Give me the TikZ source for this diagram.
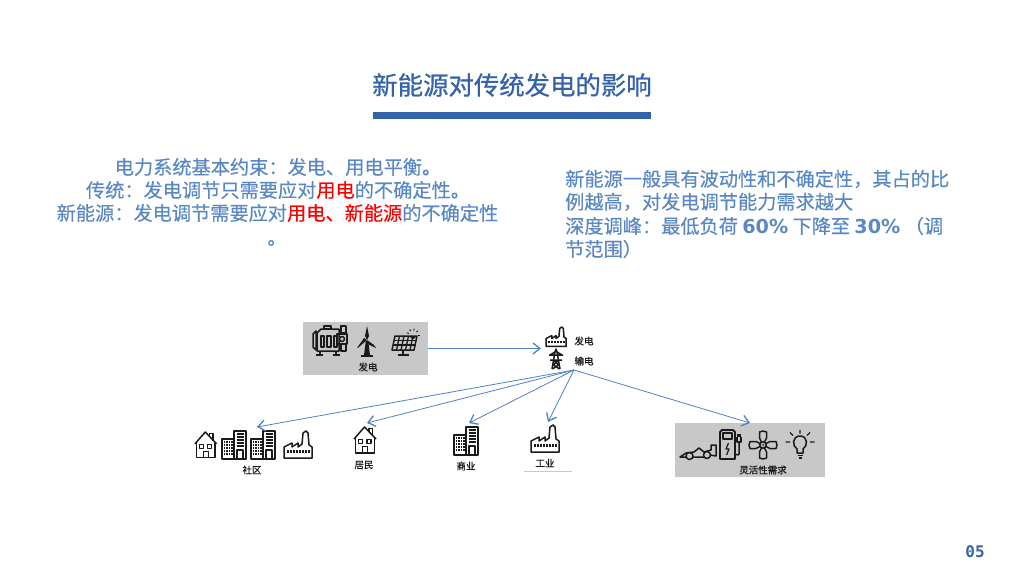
\documentclass[tikz,border=0pt]{standalone}
\usepackage{fontspec}
\usetikzlibrary{arrows.meta}
\setmainfont{Noto Sans CJK SC}
\newfontfamily\bodyfont[FakeBold=0.35]{Noto Sans CJK SC}
\newfontfamily\titlefont[FakeBold=0.7]{Noto Sans CJK SC}
\newfontfamily\labfont[FakeBold=0.8]{Noto Sans CJK SC}
\newfontfamily\latinbold{DejaVu Sans Bold}
\newfontfamily\monobold{DejaVu Sans Mono Bold}
\definecolor{titleblue}{HTML}{3563A8}
\definecolor{textblue}{HTML}{5A88C4}
\definecolor{linkblue}{HTML}{4F81C7}
\definecolor{panelgrey}{HTML}{C8C8C8}
\definecolor{iconblack}{HTML}{1A1A1A}
\newcommand{\redt}[1]{\textcolor{red}{#1}}
\newcommand{\nb}[1]{{\latinbold #1}}
\newcommand{\fwcolon}{^^^^ff1a}
\newcommand{\fwcomma}{^^^^ff0c}
\newcommand{\fwopen}{^^^^ff08}
\newcommand{\fwclose}{^^^^ff09}
\tikzset{
  x=1pt,y=-1pt,
  titletext/.style={font=\titlefont\fontsize{25.4}{28}\selectfont,text=titleblue,inner sep=0pt},
  bodyc/.style={font=\bodyfont\fontsize{19.2}{22}\selectfont,text=textblue,inner sep=0pt},
  bodyl/.style={bodyc,anchor=west},
  lab/.style={font=\labfont\fontsize{9.5}{11}\selectfont,text=iconblack,inner sep=0pt},
  panel/.style={fill=panelgrey,draw=none},
  link/.style={draw=linkblue,line width=0.8pt,-{Straight Barb[length=7pt,width=11pt,line width=1.3pt]}},
  ic/.style={draw=iconblack,line width=1.5pt,line join=round,fill=none},
  pageno/.style={font=\monobold\fontsize{16}{18}\selectfont,text=titleblue,inner sep=0pt},
  pics/house/.style={code={
    \draw[ic] (1,12)--(11.5,0)--(23,12);
    \draw[ic] (2.5,10.5)--(2.5,26)--(21.5,26)--(21.5,10.5);
    \draw[ic] (16,5)--(16,1.5)--(19.5,1.5)--(19.5,9);
    \draw[ic,line width=1.2pt] (5.5,12.5) rectangle (9.5,16.5) (14,12.5) rectangle (18,16.5) (9.5,26)--(9.5,19.5)--(14.5,19.5)--(14.5,26);
  }},
  pics/building/.style={code={
    \draw[ic] (0,8) rectangle (13,28);
    \draw[ic,fill=white,line width=1.8pt] (12,0) rectangle (24,28);
    \foreach \yy in {3,6,9,12,15}{\draw[iconblack,line width=1.2pt] (14.5,\yy)--(21.5,\yy);}
    \draw[ic,line width=1.2pt] (15,28)--(15,19)--(21,19)--(21,28);
    \foreach \yy in {11,14,17,20,23}{\draw[iconblack,line width=1.2pt,dash pattern=on 1.4pt off 1pt] (2,\yy)--(11,\yy);}
  }},
  pics/factory/.style={code={
    \draw[ic] (0,27)--(0,16)--(8,12)--(8,16)--(14,12)--(14,16)--(18,13)--(19,2)--(22,0)--(24,2)--(25,14)--(28,16)--(28,27)--cycle;
    \draw[iconblack,line width=2.2pt,dash pattern=on 1.5pt off 1.5pt] (3,20.5)--(26,20.5);
  }},
  pics/engine/.style={code={
    \draw[ic] (0,8)--(3,5)--(3,24)--(0,21)--cycle;
    \draw[ic] (4,7)--(8,3)--(26,3)--(26,25)--(4,25)--cycle;
    \draw[ic] (11,3) rectangle (18,0) (24,8) rectangle (34,18) (28,0) rectangle (33,7);
    \draw[ic,line width=1.2pt] (8,10) rectangle (11,21) (14,10) rectangle (18,21) (21,10) rectangle (24,21);
    \draw[ic] (7,25)--(7,29) (23,25)--(23,29) (3,29)--(10,29) (20,29)--(27,29);
    \draw[ic,fill=panelgrey] (29,13) circle (2.5);
    \draw[ic] (28,18)--(28,25)--(33,25)--(33,18);
  }},
  pics/turbine/.style={code={
    \fill[iconblack] (0,0)--(-2,-4)--(0,-14)--(2,-4)--cycle;
    \fill[iconblack] (0,0)--(-8,7)--(-10,8)--(-3,-2)--cycle;
    \fill[iconblack] (0,0)--(7,5)--(9,8)--(1.5,4.5)--cycle;
    \fill[iconblack] (-1.2,1)--(1.2,1)--(3,15)--(-3,15)--cycle;
    \fill[iconblack] (-6,15) rectangle (6,17);
  }},
  pics/solar/.style={code={
    \draw[ic,fill=panelgrey] (3,6)--(25,6)--(22,20)--(0,20)--cycle;
    \foreach \xx in {7.5,12,16.5,21}{\draw[iconblack,line width=1.3pt] (\xx,6)--(\xx-3,20);}
    \foreach \yy in {10.5,15}{\draw[iconblack,line width=1.3pt] (2,\yy)--(24,\yy);}
    \draw[ic] (11,20)--(11,25) (6,25)--(17,25);
    \fill[iconblack] (18,6) arc (180:0:3) -- cycle;
    \foreach \aa in {20,60,100,140,180}{\draw[iconblack,line width=.9pt] (21,5)+(\aa:-4.5)--+(\aa:-6.5);}
  }},
  pics/pylon/.style={code={
    \draw[ic] (3,20)--(6,3)--(7,0)--(8,3)--(11,20);
    \draw[ic] (0,6)--(14,6) (1,11)--(13,11) (6,3)--(1,6) (8,3)--(13,6) (4.5,11)--(9.5,16)--(3.5,20) (9.5,11)--(4.5,16)--(10.5,20);
  }},
  pics/car/.style={code={
    \draw[ic] (0,14)--(6,10)--(14,9)--(19,5)--(24,9)--(31,7)--(31,2)--(36,2)--(36,13)--(30,12)--(28,14)--(14,14)--(12,15)--(8,15)--(6,14)--cycle;
    \draw[ic,fill=panelgrey] (9.5,13) circle (3.5) (27,12) circle (3.5);
  }},
  pics/pump/.style={code={
    \draw[ic,line width=1.8pt] (0,29)--(0,2)--(2,0)--(13,0)--(15,2)--(15,29)--cycle;
    \draw[ic] (3,3) rectangle (12,9);
    \draw[ic,line width=1.2pt] (8.5,13)--(6,19)--(9,19)--(6.5,25);
    \draw[ic] (15,24)--(18,25)--(19,24)--(19,13);
    \draw[ic] (17,7)--(17,12)--(21,12)--(21,7) (18,7)--(18,4) (20,7)--(20,4);
  }},
  pics/fan/.style={code={
    \draw[ic] (0,0) circle (3.2);
    \fill[iconblack] (0,0) circle (1);
    \foreach \aa in {0,90,180,270}{
      \begin{scope}[rotate=\aa]
        \draw[ic] (3,-1.5)--(7,-3.5)--(13,-3.5)--(14,0)--(13,3.5)--(7,3.5)--(3,1.5);
      \end{scope}}
  }},
  pics/bulb/.style={code={
    \draw[ic] (-3,13)--(-3,9) .. controls (-8,6) and (-8,-4) .. (0,-4) .. controls (8,-4) and (8,6) .. (3,9)--(3,13)--cycle;
    \draw[ic] (-2.5,15.5)--(2.5,15.5) (-1.5,18)--(1.5,18);
    \draw[iconblack,line width=1.1pt] (0,-6.5)--(0,-10) (-7,-4.5)--(-10,-7.5) (7,-4.5)--(10,-7.5) (-10,2)--(-14.5,2) (10,2)--(14.5,2);
  }}
}
\begin{document}
\begin{tikzpicture}
\useasboundingbox (0,0) rectangle (1024,576);
% heading
\node[titletext] (title) at (512,85) {新能源对传统发电的影响};
\fill[titleblue] (373,112) rectangle (651,118.5);
% left text
\node[bodyc] (l1) at (278,167) {电力系统基本约束\fwcolon 发电、用电平衡。};
\node[bodyc] (l2) at (278,190) {传统\fwcolon 发电调节只需要应对\redt{用电}的不确定性。};
\node[bodyc] (l3) at (277.5,213) {新能源\fwcolon 发电调节需要应对\redt{用电、新能源}的不确定性};
\node[bodyc] (l4) at (277,243) {。};
% right text
\node[bodyl] (r1) at (565,179) {新能源一般具有波动性和不确定性\fwcomma 其占的比};
\node[bodyl] (r2) at (565,202) {例越高\fwcomma 对发电调节能力需求越大};
\node[bodyl] (r3) at (565,226) {深度调峰\fwcolon 最低负荷 \nb{60\%} 下降至 \nb{30\%} \fwopen 调};
\node[bodyl] (r4) at (565,249) {节范围\fwclose};
% panels
\node[panel,minimum width=125pt,minimum height=53pt,inner sep=0pt] (genpanel) at (365.5,348.5) {};
\node[panel,minimum width=150pt,minimum height=54pt,inner sep=0pt] (flexpanel) at (750,450) {};
% generation icons
\pic at (313,326) {engine};
\pic at (367,340) {turbine};
\pic at (392,330) {solar};
\node[lab] (genlabel) at (368,367) {发电};
% grid icons
\pic[scale=.72] at (546,327) {factory};
\pic at (549,349) {pylon};
\node[lab] (l5) at (584,341) {发电};
\node[lab] (l6) at (584,361) {输电};
% consumers
\pic[scale=.98] at (194,432) {house};
\pic at (222,431) {building};
\pic at (251,431) {building};
\pic at (284,431) {factory};
\node[lab] (shequ) at (252,470) {社区};
\pic at (353,427) {house};
\node[lab] (jumin) at (364,465) {居民};
\pic at (454,427) {building};
\node[lab] (shangye) at (466,466) {商业};
\pic at (531,425) {factory};
\node[lab] (gongye) at (545,463) {工业};
\fill[panelgrey] (524,470.5) rectangle (572,471.5);
% flexible demand icons
\pic at (680,443) {car};
\pic at (720,430) {pump};
\pic at (763,445) {fan};
\pic at (800,440) {bulb};
\node[lab] (flexlabel) at (763,470) {灵活性需求};
% connectors
\coordinate (gridin) at (541,348.5);
\coordinate (hub) at (574,370);
\coordinate (toA) at (257,427);
\coordinate (toB) at (367,423);
\coordinate (toC) at (469,423);
\coordinate (toD) at (548,422);
\coordinate (toE) at (750,423);
\draw[link] (genpanel.east) -- (gridin);
\draw[link] (hub) -- (toA);
\draw[link] (hub) -- (toB);
\draw[link] (hub) -- (toC);
\draw[link] (hub) -- (toD);
\draw[link] (hub) -- (toE);
\node[pageno] (page) at (975,552) {05};
\end{tikzpicture}
\end{document}
